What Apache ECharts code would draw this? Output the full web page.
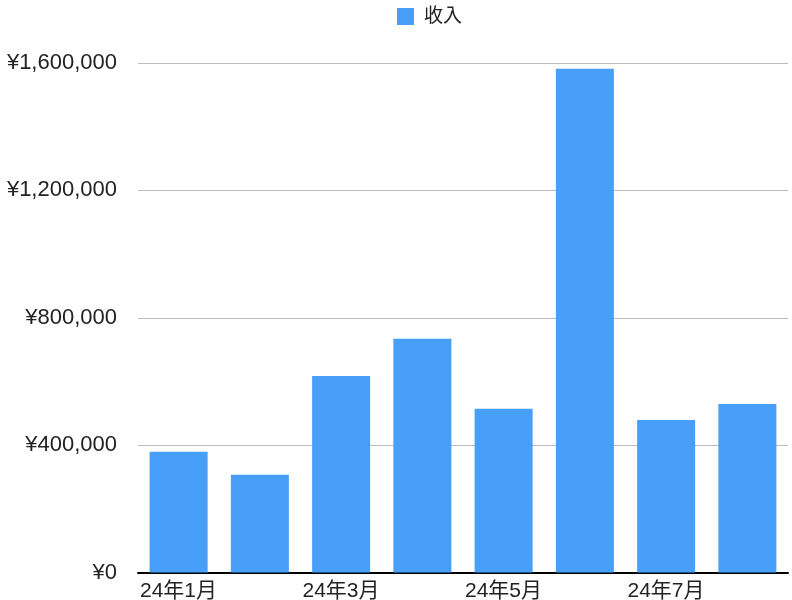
<!DOCTYPE html>
<html><head><meta charset="utf-8">
<script src="https://cdn.jsdelivr.net/npm/echarts@6/dist/echarts.min.js"></script>
<style>html,body{margin:0;padding:0;background:#fff}#c{width:792px;height:600px}</style>
</head><body><div id="c"></div>
<script>
const categories = ['24年1月','24年2月','24年3月','24年4月','24年5月','24年6月','24年7月','24年8月'];
const income = [379000, 307000, 617000, 734000, 514000, 1582000, 479000, 529000];
const tickLabels = ['24年1月','','24年3月','','24年5月','','24年7月','',''];
const seriesName = '收入';
const font = '"Liberation Sans", "Noto Sans CJK JP", sans-serif';
const chart = echarts.init(document.getElementById('c'));
chart.setOption({
  animation: false,
  legend: {
    top: 2, left: 392,
    itemWidth: 17, itemHeight: 17, itemGap: 10,
    icon: 'rect',
    textStyle: { fontSize: 19, color: '#222', fontFamily: font, padding: [0,0,0,5] },
    data: [seriesName]
  },
  grid: { left: 138, right: 4, top: 63, bottom: 27.5, containLabel: false, outerBoundsMode: 'none' },
  xAxis: [{
    type: 'category', data: categories,
    axisLine: { lineStyle: { color: '#000', width: 2 } },
    axisTick: { show: false },
    axisLabel: { show: false }
  }, {
    type: 'category', data: tickLabels, boundaryGap: false, position: 'bottom',
    axisLine: { show: false }, axisTick: { show: false },
    axisLabel: { interval: 0, align: 'left', margin: 8, fontSize: 21, color: '#222', fontFamily: font, padding: [0,0,0,2] }
  }],
  yAxis: {
    type: 'value', min: 0, max: 1600000, interval: 400000,
    axisLine: { show: false }, axisTick: { show: false },
    splitLine: { lineStyle: { color: '#bbb', width: 1 } },
    axisLabel: { margin: 21, fontSize: 22, color: '#222', fontFamily: font, padding: [5,0,0,0],
      formatter: v => '¥' + v.toLocaleString('en-US') }
  },
  series: [{
    name: seriesName, type: 'bar', data: income, xAxisIndex: 0,
    barCategoryGap: '28.6%',
    itemStyle: { color: '#489ff9' }
  }]
});
</script></body></html>
